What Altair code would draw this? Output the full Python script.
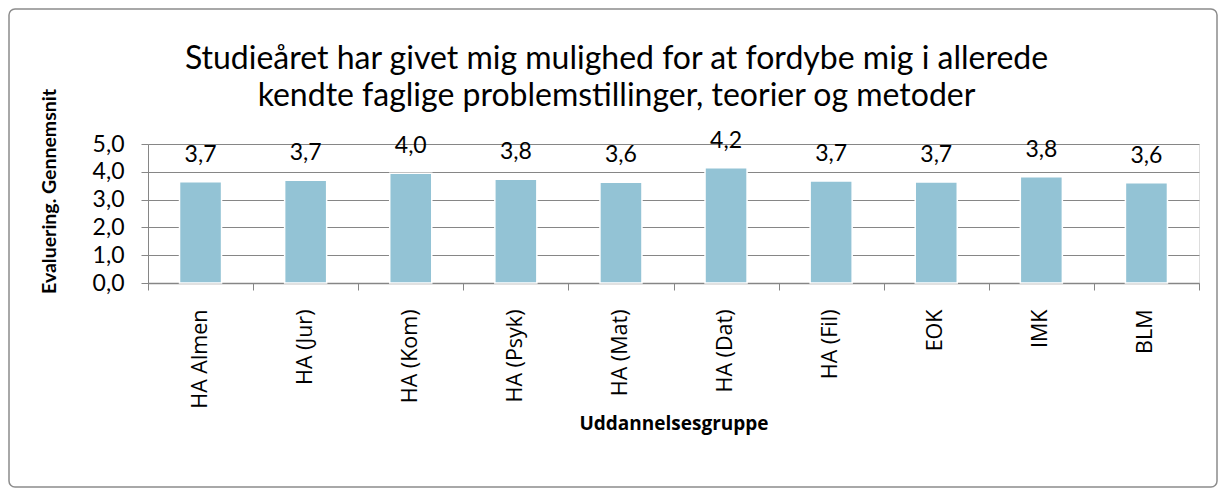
import altair as alt
import pandas as pd

categories = ["HA Almen", "HA (Jur)", "HA (Kom)", "HA (Psyk)", "HA (Mat)",
              "HA (Dat)", "HA (Fil)", "EOK", "IMK", "BLM"]
values = [3.64, 3.70, 3.95, 3.73, 3.62, 4.15, 3.67, 3.63, 3.82, 3.61]
labels = ["3,7", "3,7", "4,0", "3,8", "3,6", "4,2", "3,7", "3,7", "3,8", "3,6"]
y_ticks = [0, 1, 2, 3, 4, 5]
boundaries = list(range(11))

title_lines = ["Studieåret har givet mig mulighed for at fordybe mig i allerede",
               "kendte faglige problemstillinger, teorier og metoder"]

df = pd.DataFrame({"cat": categories, "val": values, "lab": labels})

GRAY = "#868686"
W, H = 1051, 139

x_band = alt.X(
    "cat:N", sort=categories,
    scale=alt.Scale(paddingInner=0.6, paddingOuter=0.3),
    axis=alt.Axis(
        orient="bottom", title="Uddannelsesgruppe", labelAngle=-90,
        labelAlign="right", labelBaseline="middle", ticks=False,
        domain=True, domainColor=GRAY, domainWidth=1.5,
        labelPadding=26, labelFont="Open Sans", labelFontSize=21.5,
        labelColor="black", titleFont="Open Sans", titleFontSize=19,
        titleFontWeight="bold", titleColor="black", titleY=140,
        titleBaseline="middle", grid=False, labelOverlap=False,
    ),
)

y_enc = alt.Y(
    "val:Q",
    scale=alt.Scale(domain=[0, 5], nice=False),
    axis=alt.Axis(
        values=y_ticks, labelExpr="replace(format(datum.value, '.1f'), '.', ',')",
        title="Evaluering. Gennemsnit", grid=True, gridColor=GRAY, gridWidth=1,
        domain=True, domainColor=GRAY, tickColor=GRAY, tickSize=7,
        labelFont="Lato", labelFontSize=23, labelColor="black", labelPadding=17,
        labelOverlap=False, labelBaseline="middle",
        titleFont="Lato", titleFontSize=19.5, titleFontWeight="bold",
        titleColor="black", titleX=-99, titleY=47, titleAlign="center",
        titleBaseline="middle", titleAngle=-90,
    ),
)

bars = alt.Chart(df).mark_bar(
    color="#93C3D5", stroke="white", strokeWidth=1.5
).encode(x=x_band, y=y_enc)

text = alt.Chart(df).mark_text(
    dy=-20, baseline="alphabetic", font="Lato", fontSize=23, color="black"
).encode(x=alt.X("cat:N", sort=categories), y=y_enc, text="lab:N")

main = alt.layer(bars, text)

ticks = alt.Chart(pd.DataFrame({"b": boundaries})).mark_point(opacity=0).encode(
    x=alt.X("b:Q", scale=alt.Scale(domain=[0, 10], nice=False, zero=False),
            axis=alt.Axis(orient="bottom", values=boundaries, labels=False,
                          domain=False, tickSize=7, tickColor=GRAY,
                          title=None, grid=False))
)

border = alt.Chart(alt.Data(values=[{}])).mark_rect(
    fill="white", fillOpacity=0, stroke="#8c8c8c", strokeWidth=1.5, cornerRadius=6
).encode(x=alt.value(-139), x2=alt.value(1069), y=alt.value(-135), y2=alt.value(343))

chart = alt.layer(main, ticks, border).resolve_scale(x="independent").properties(
    width=W, height=H,
    title=alt.TitleParams(
        text=title_lines, font="Lato", fontSize=32, fontWeight="normal",
        color="black", anchor="middle", dx=-57, offset=0, dy=105, lineHeight=37,
    ),
    autosize=alt.AutoSizeParams(type="none"),
    padding={"left": 140, "top": 136, "right": 20, "bottom": 206},
).configure_view(stroke=None).configure(background="white")

chart.save("out.html", embed_options={"renderer": "svg", "actions": False})
